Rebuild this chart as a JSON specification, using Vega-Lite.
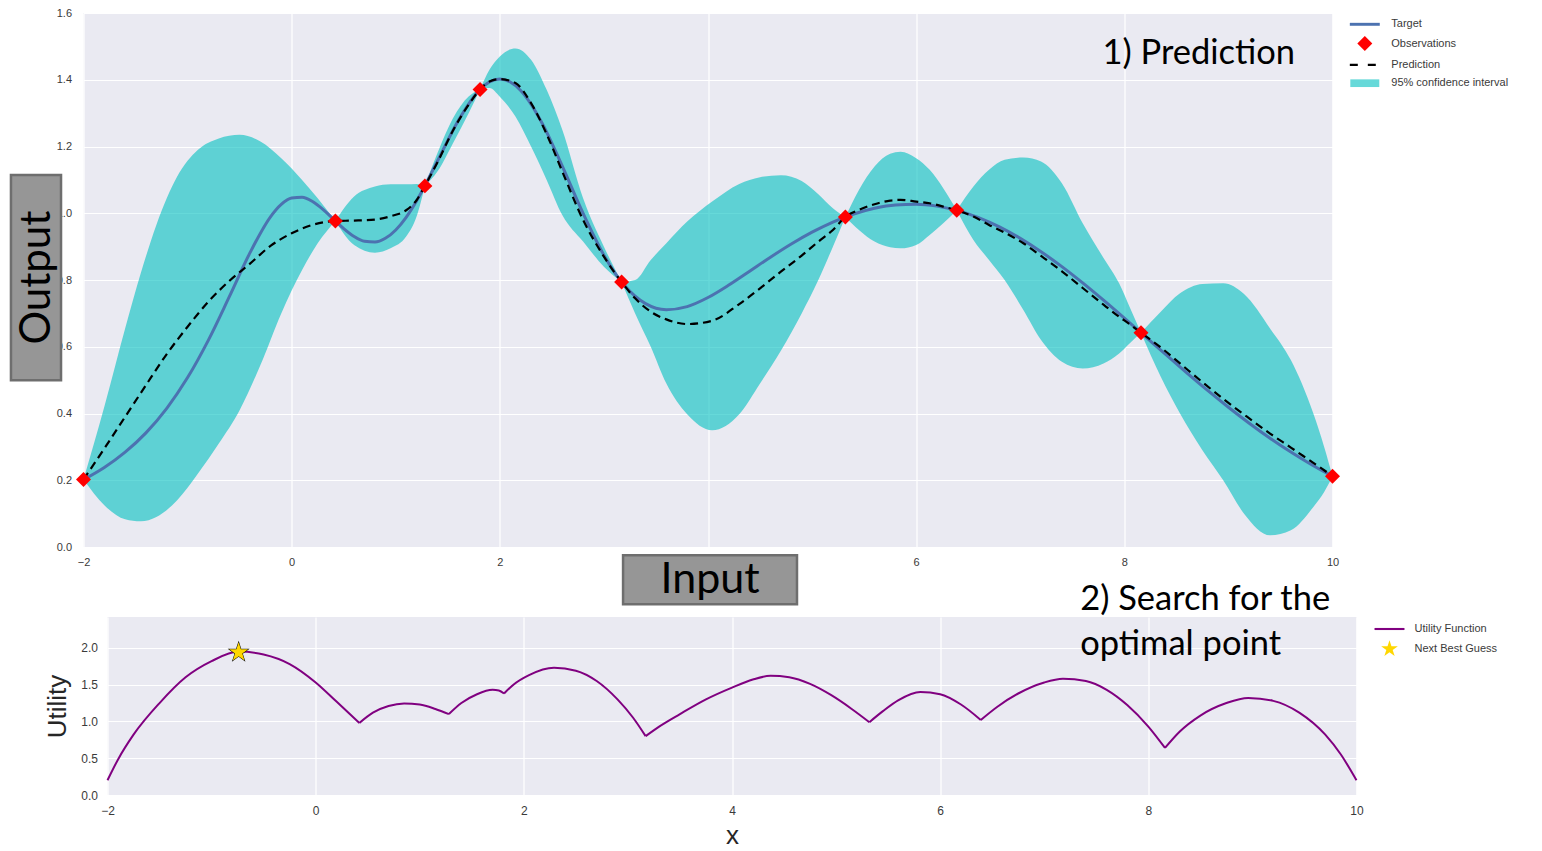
{
  "$schema": "https://vega.github.io/schema/vega-lite/v6.json",
  "background": "white",
  "padding": {"left": 9.5, "top": 7, "right": 0, "bottom": 0},
  "autosize": {"type": "pad"},
  "config": {
    "font": "Liberation Sans",
    "view": {"fill": "#EAEAF2", "stroke": null},
    "axis": {"domain": false, "ticks": false, "grid": true, "gridColor": "#FFFFFF", "gridWidth": 1.2, "labelColor": "#3a3a3a", "labelFont": "Liberation Sans", "titleFont": "Liberation Sans", "titleFontWeight": "normal", "titleColor": "#262626", "labelFlush": false},
    "legend": {"labelFont": "Liberation Sans", "labelColor": "#3a3a3a", "labelFontSize": 11}
  },
  "datasets": {
    "target": [
      {"x": -2, "y": 0.2017}, {"x": -1.8, "y": 0.2381}, {"x": -1.6, "y": 0.284}, {"x": -1.4, "y": 0.342}, {"x": -1.2, "y": 0.4155}, {"x": -1.0, "y": 0.5076}, {"x": -0.8, "y": 0.62}, {"x": -0.6, "y": 0.7493}, {"x": -0.4, "y": 0.8819}, {"x": -0.2, "y": 0.9908}, {"x": -0.1, "y": 1.0265}, {"x": 0, "y": 1.0456}, {"x": 0.1, "y": 1.0479}, {"x": 0.2, "y": 1.0353}, {"x": 0.3, "y": 1.0118}, {"x": 0.4, "y": 0.9828}, {"x": 0.5, "y": 0.954}, {"x": 0.6, "y": 0.9303}, {"x": 0.7, "y": 0.9159}, {"x": 0.8, "y": 0.9137}, {"x": 0.9, "y": 0.9249}, {"x": 1.0, "y": 0.95}, {"x": 1.1, "y": 0.988}, {"x": 1.2, "y": 1.0369}, {"x": 1.4, "y": 1.156}, {"x": 1.6, "y": 1.2773}, {"x": 1.8, "y": 1.368}, {"x": 1.9, "y": 1.3931}, {"x": 2.0, "y": 1.4019}, {"x": 2.1, "y": 1.3933}, {"x": 2.2, "y": 1.368}, {"x": 2.4, "y": 1.2737}, {"x": 2.6, "y": 1.1413}, {"x": 2.8, "y": 0.9996}, {"x": 3.0, "y": 0.8744}, {"x": 3.2, "y": 0.7825}, {"x": 3.4, "y": 0.7291}, {"x": 3.6, "y": 0.711}, {"x": 3.8, "y": 0.7203}, {"x": 4.0, "y": 0.7475}, {"x": 4.2, "y": 0.7848}, {"x": 4.4, "y": 0.8264}, {"x": 4.6, "y": 0.8683}, {"x": 4.8, "y": 0.9079}, {"x": 5.0, "y": 0.9434}, {"x": 5.2, "y": 0.9737}, {"x": 5.4, "y": 0.9978}, {"x": 5.6, "y": 1.015}, {"x": 5.8, "y": 1.0249}, {"x": 6.0, "y": 1.027}, {"x": 6.2, "y": 1.0214}, {"x": 6.4, "y": 1.008}, {"x": 6.6, "y": 0.9871}, {"x": 6.8, "y": 0.9592}, {"x": 7.0, "y": 0.9248}, {"x": 7.2, "y": 0.8848}, {"x": 7.4, "y": 0.84}, {"x": 7.6, "y": 0.7912}, {"x": 7.8, "y": 0.7394}, {"x": 8.0, "y": 0.6857}, {"x": 8.2, "y": 0.631}, {"x": 8.4, "y": 0.5761}, {"x": 8.6, "y": 0.522}, {"x": 8.8, "y": 0.4693}, {"x": 9.0, "y": 0.4188}, {"x": 9.2, "y": 0.3709}, {"x": 9.4, "y": 0.3259}, {"x": 9.6, "y": 0.2844}, {"x": 9.8, "y": 0.2463}, {"x": 10, "y": 0.2118}
    ],
    "mean": [
      {"x": -2, "m": 0.202}, {"x": -1.8, "m": 0.295}, {"x": -1.6, "m": 0.39}, {"x": -1.4, "m": 0.485}, {"x": -1.2, "m": 0.578}, {"x": -1.0, "m": 0.66}, {"x": -0.8, "m": 0.735}, {"x": -0.6, "m": 0.797}, {"x": -0.4, "m": 0.849}, {"x": -0.2, "m": 0.903}, {"x": 0, "m": 0.94}, {"x": 0.2, "m": 0.965}, {"x": 0.42, "m": 0.977},
      {"x": 0.6, "m": 0.978}, {"x": 0.8, "m": 0.981}, {"x": 0.95, "m": 0.991}, {"x": 1.1, "m": 1.009}, {"x": 1.2, "m": 1.039}, {"x": 1.28, "m": 1.082}, {"x": 1.4, "m": 1.152}, {"x": 1.55, "m": 1.248}, {"x": 1.7, "m": 1.325}, {"x": 1.81, "m": 1.371},
      {"x": 1.9, "m": 1.395}, {"x": 2.0, "m": 1.402}, {"x": 2.15, "m": 1.39}, {"x": 2.3, "m": 1.33}, {"x": 2.45, "m": 1.237}, {"x": 2.6, "m": 1.125}, {"x": 2.8, "m": 0.98}, {"x": 3.0, "m": 0.87}, {"x": 3.17, "m": 0.794},
      {"x": 3.3, "m": 0.745}, {"x": 3.45, "m": 0.705}, {"x": 3.6, "m": 0.682}, {"x": 3.8, "m": 0.668}, {"x": 4.04, "m": 0.678}, {"x": 4.3, "m": 0.728}, {"x": 4.5, "m": 0.775}, {"x": 4.7, "m": 0.825}, {"x": 4.9, "m": 0.873}, {"x": 5.06, "m": 0.915}, {"x": 5.2, "m": 0.95}, {"x": 5.32, "m": 0.989},
      {"x": 5.45, "m": 1.01}, {"x": 5.6, "m": 1.027}, {"x": 5.75, "m": 1.038}, {"x": 5.85, "m": 1.04}, {"x": 6.0, "m": 1.035}, {"x": 6.13, "m": 1.03}, {"x": 6.26, "m": 1.02}, {"x": 6.39, "m": 1.009},
      {"x": 6.55, "m": 0.99}, {"x": 6.7, "m": 0.965}, {"x": 6.85, "m": 0.942}, {"x": 7.03, "m": 0.91}, {"x": 7.2, "m": 0.872}, {"x": 7.4, "m": 0.826}, {"x": 7.6, "m": 0.776}, {"x": 7.8, "m": 0.726}, {"x": 7.95, "m": 0.69}, {"x": 8.05, "m": 0.668}, {"x": 8.16, "m": 0.642},
      {"x": 8.35, "m": 0.598}, {"x": 8.535, "m": 0.55}, {"x": 8.75, "m": 0.494}, {"x": 8.95, "m": 0.444}, {"x": 9.15, "m": 0.397}, {"x": 9.4, "m": 0.34}, {"x": 9.6, "m": 0.298}, {"x": 9.816, "m": 0.252}, {"x": 9.92, "m": 0.23}, {"x": 10, "m": 0.212}
    ],
    "band": [
      {"seg": 1, "x": -2, "lower": 0.202, "upper": 0.202}, {"seg": 1, "x": -1.8, "lower": 0.125, "upper": 0.42}, {"seg": 1, "x": -1.6, "lower": 0.083, "upper": 0.655}, {"seg": 1, "x": -1.45, "lower": 0.077, "upper": 0.82}, {"seg": 1, "x": -1.3, "lower": 0.09, "upper": 0.965}, {"seg": 1, "x": -1.1, "lower": 0.14, "upper": 1.11}, {"seg": 1, "x": -0.9, "lower": 0.22, "upper": 1.19}, {"seg": 1, "x": -0.7, "lower": 0.31, "upper": 1.224}, {"seg": 1, "x": -0.5, "lower": 0.41, "upper": 1.235}, {"seg": 1, "x": -0.3, "lower": 0.545, "upper": 1.215}, {"seg": 1, "x": -0.1, "lower": 0.7, "upper": 1.165}, {"seg": 1, "x": 0.1, "lower": 0.83, "upper": 1.1}, {"seg": 1, "x": 0.25, "lower": 0.91, "upper": 1.045}, {"seg": 1, "x": 0.42, "lower": 0.977, "upper": 0.977},
      {"seg": 2, "x": 0.42, "lower": 0.977, "upper": 0.977}, {"seg": 2, "x": 0.6, "lower": 0.905, "upper": 1.05}, {"seg": 2, "x": 0.8, "lower": 0.882, "upper": 1.08}, {"seg": 2, "x": 0.95, "lower": 0.895, "upper": 1.087}, {"seg": 2, "x": 1.1, "lower": 0.93, "upper": 1.087}, {"seg": 2, "x": 1.2, "lower": 0.99, "upper": 1.088}, {"seg": 2, "x": 1.28, "lower": 1.082, "upper": 1.082},
      {"seg": 3, "x": 1.28, "lower": 1.082, "upper": 1.082}, {"seg": 3, "x": 1.4, "lower": 1.125, "upper": 1.18}, {"seg": 3, "x": 1.55, "lower": 1.21, "upper": 1.285}, {"seg": 3, "x": 1.7, "lower": 1.3, "upper": 1.35}, {"seg": 3, "x": 1.81, "lower": 1.371, "upper": 1.371},
      {"seg": 4, "x": 1.81, "lower": 1.371, "upper": 1.371}, {"seg": 4, "x": 1.9, "lower": 1.375, "upper": 1.43}, {"seg": 4, "x": 2.0, "lower": 1.349, "upper": 1.47}, {"seg": 4, "x": 2.15, "lower": 1.29, "upper": 1.494}, {"seg": 4, "x": 2.3, "lower": 1.2, "upper": 1.46}, {"seg": 4, "x": 2.45, "lower": 1.1, "upper": 1.37}, {"seg": 4, "x": 2.6, "lower": 0.995, "upper": 1.25}, {"seg": 4, "x": 2.8, "lower": 0.915, "upper": 1.045}, {"seg": 4, "x": 3.0, "lower": 0.84, "upper": 0.9}, {"seg": 4, "x": 3.17, "lower": 0.794, "upper": 0.794},
      {"seg": 5, "x": 3.17, "lower": 0.794, "upper": 0.794}, {"seg": 5, "x": 3.3, "lower": 0.7, "upper": 0.8}, {"seg": 5, "x": 3.45, "lower": 0.6, "upper": 0.86}, {"seg": 5, "x": 3.6, "lower": 0.49, "upper": 0.91}, {"seg": 5, "x": 3.8, "lower": 0.398, "upper": 0.975}, {"seg": 5, "x": 4.04, "lower": 0.35, "upper": 1.035}, {"seg": 5, "x": 4.3, "lower": 0.398, "upper": 1.088}, {"seg": 5, "x": 4.5, "lower": 0.49, "upper": 1.108}, {"seg": 5, "x": 4.7, "lower": 0.588, "upper": 1.114}, {"seg": 5, "x": 4.9, "lower": 0.7, "upper": 1.097}, {"seg": 5, "x": 5.06, "lower": 0.8, "upper": 1.057}, {"seg": 5, "x": 5.2, "lower": 0.9, "upper": 1.015}, {"seg": 5, "x": 5.32, "lower": 0.989, "upper": 0.989},
      {"seg": 6, "x": 5.32, "lower": 0.989, "upper": 0.989}, {"seg": 6, "x": 5.45, "lower": 0.95, "upper": 1.07}, {"seg": 6, "x": 5.6, "lower": 0.915, "upper": 1.14}, {"seg": 6, "x": 5.75, "lower": 0.898, "upper": 1.178}, {"seg": 6, "x": 5.85, "lower": 0.895, "upper": 1.184}, {"seg": 6, "x": 6.0, "lower": 0.905, "upper": 1.165}, {"seg": 6, "x": 6.13, "lower": 0.935, "upper": 1.13}, {"seg": 6, "x": 6.26, "lower": 0.97, "upper": 1.075}, {"seg": 6, "x": 6.39, "lower": 1.009, "upper": 1.009},
      {"seg": 7, "x": 6.39, "lower": 1.009, "upper": 1.009}, {"seg": 7, "x": 6.55, "lower": 0.92, "upper": 1.08}, {"seg": 7, "x": 6.7, "lower": 0.86, "upper": 1.13}, {"seg": 7, "x": 6.85, "lower": 0.8, "upper": 1.16}, {"seg": 7, "x": 7.03, "lower": 0.71, "upper": 1.167}, {"seg": 7, "x": 7.2, "lower": 0.62, "upper": 1.155}, {"seg": 7, "x": 7.4, "lower": 0.555, "upper": 1.09}, {"seg": 7, "x": 7.6, "lower": 0.535, "upper": 0.97}, {"seg": 7, "x": 7.8, "lower": 0.55, "upper": 0.866}, {"seg": 7, "x": 7.95, "lower": 0.58, "upper": 0.79}, {"seg": 7, "x": 8.05, "lower": 0.61, "upper": 0.72}, {"seg": 7, "x": 8.16, "lower": 0.642, "upper": 0.642},
      {"seg": 8, "x": 8.16, "lower": 0.642, "upper": 0.642}, {"seg": 8, "x": 8.35, "lower": 0.51, "upper": 0.705}, {"seg": 8, "x": 8.535, "lower": 0.4, "upper": 0.76}, {"seg": 8, "x": 8.75, "lower": 0.29, "upper": 0.788}, {"seg": 8, "x": 8.95, "lower": 0.2, "upper": 0.79}, {"seg": 8, "x": 9.15, "lower": 0.1, "upper": 0.758}, {"seg": 8, "x": 9.4, "lower": 0.035, "upper": 0.655}, {"seg": 8, "x": 9.6, "lower": 0.05, "upper": 0.56}, {"seg": 8, "x": 9.816, "lower": 0.12, "upper": 0.4}, {"seg": 8, "x": 9.92, "lower": 0.165, "upper": 0.3}, {"seg": 8, "x": 10, "lower": 0.212, "upper": 0.212}
    ],
    "obs": [
      {"x": -2, "y": 0.202}, {"x": 0.42, "y": 0.977}, {"x": 1.28, "y": 1.082}, {"x": 1.81, "y": 1.371}, {"x": 3.17, "y": 0.794}, {"x": 5.32, "y": 0.989}, {"x": 6.39, "y": 1.009}, {"x": 8.16, "y": 0.642}, {"x": 10, "y": 0.212}
    ],
    "util": [
      {"seg": 1, "x": -2, "u": 0.2}, {"seg": 1, "x": -1.9, "u": 0.48}, {"seg": 1, "x": -1.75, "u": 0.82}, {"seg": 1, "x": -1.5, "u": 1.25}, {"seg": 1, "x": -1.25, "u": 1.6}, {"seg": 1, "x": -1.0, "u": 1.82}, {"seg": 1, "x": -0.74, "u": 1.95}, {"seg": 1, "x": -0.5, "u": 1.91}, {"seg": 1, "x": -0.25, "u": 1.78}, {"seg": 1, "x": 0, "u": 1.53}, {"seg": 1, "x": 0.2, "u": 1.27}, {"seg": 1, "x": 0.42, "u": 0.98},
      {"seg": 2, "x": 0.42, "u": 0.98}, {"seg": 2, "x": 0.55, "u": 1.12}, {"seg": 2, "x": 0.7, "u": 1.21}, {"seg": 2, "x": 0.85, "u": 1.245}, {"seg": 2, "x": 1.0, "u": 1.23}, {"seg": 2, "x": 1.15, "u": 1.17}, {"seg": 2, "x": 1.28, "u": 1.1},
      {"seg": 3, "x": 1.28, "u": 1.1}, {"seg": 3, "x": 1.4, "u": 1.25}, {"seg": 3, "x": 1.55, "u": 1.37}, {"seg": 3, "x": 1.7, "u": 1.43}, {"seg": 3, "x": 1.76, "u": 1.42}, {"seg": 3, "x": 1.81, "u": 1.38},
      {"seg": 4, "x": 1.81, "u": 1.38}, {"seg": 4, "x": 1.9, "u": 1.5}, {"seg": 4, "x": 2.05, "u": 1.63}, {"seg": 4, "x": 2.29, "u": 1.73}, {"seg": 4, "x": 2.5, "u": 1.69}, {"seg": 4, "x": 2.7, "u": 1.55}, {"seg": 4, "x": 2.9, "u": 1.3}, {"seg": 4, "x": 3.05, "u": 1.05}, {"seg": 4, "x": 3.17, "u": 0.8},
      {"seg": 5, "x": 3.17, "u": 0.8}, {"seg": 5, "x": 3.3, "u": 0.93}, {"seg": 5, "x": 3.5, "u": 1.1}, {"seg": 5, "x": 3.75, "u": 1.3}, {"seg": 5, "x": 4.0, "u": 1.46}, {"seg": 5, "x": 4.2, "u": 1.57}, {"seg": 5, "x": 4.37, "u": 1.62}, {"seg": 5, "x": 4.55, "u": 1.6}, {"seg": 5, "x": 4.75, "u": 1.51}, {"seg": 5, "x": 4.95, "u": 1.36}, {"seg": 5, "x": 5.15, "u": 1.17}, {"seg": 5, "x": 5.32, "u": 0.99},
      {"seg": 6, "x": 5.32, "u": 0.99}, {"seg": 6, "x": 5.45, "u": 1.14}, {"seg": 6, "x": 5.6, "u": 1.29}, {"seg": 6, "x": 5.81, "u": 1.4}, {"seg": 6, "x": 6.0, "u": 1.37}, {"seg": 6, "x": 6.2, "u": 1.23}, {"seg": 6, "x": 6.39, "u": 1.02},
      {"seg": 7, "x": 6.39, "u": 1.02}, {"seg": 7, "x": 6.55, "u": 1.2}, {"seg": 7, "x": 6.75, "u": 1.38}, {"seg": 7, "x": 7.0, "u": 1.53}, {"seg": 7, "x": 7.18, "u": 1.58}, {"seg": 7, "x": 7.4, "u": 1.55}, {"seg": 7, "x": 7.6, "u": 1.43}, {"seg": 7, "x": 7.8, "u": 1.22}, {"seg": 7, "x": 8.0, "u": 0.93}, {"seg": 7, "x": 8.16, "u": 0.64},
      {"seg": 8, "x": 8.16, "u": 0.64}, {"seg": 8, "x": 8.3, "u": 0.86}, {"seg": 8, "x": 8.5, "u": 1.08}, {"seg": 8, "x": 8.75, "u": 1.25}, {"seg": 8, "x": 8.96, "u": 1.32}, {"seg": 8, "x": 9.2, "u": 1.28}, {"seg": 8, "x": 9.45, "u": 1.12}, {"seg": 8, "x": 9.7, "u": 0.82}, {"seg": 8, "x": 9.85, "u": 0.55}, {"seg": 8, "x": 10, "u": 0.2}
    ],
    "best": [{"x": -0.74, "u": 1.94}]
  },
  "bounds": "flush",
  "spacing": 70,
  "resolve": {"scale": {"color": "independent", "shape": "independent"}, "legend": {"color": "independent", "shape": "independent"}},
  "vconcat": [
    {
      "width": 1249,
      "height": 534,
      "layer": [
        {
          "data": {"name": "band"},
          "mark": {"type": "area", "color": "#00BFBF", "opacity": 0.6, "interpolate": "monotone"},
          "encoding": {
            "x": {"field": "x", "type": "quantitative", "scale": {"domain": [-2, 10], "nice": false, "zero": false}, "axis": {"values": [-2, 0, 2, 4, 6, 8, 10], "format": "d", "title": null, "labelPadding": 9, "labelFontSize": 11}},
            "y": {"field": "lower", "type": "quantitative", "scale": {"domain": [0, 1.6], "nice": false, "zero": false}, "axis": {"values": [0, 0.2, 0.4, 0.6, 0.8, 1.0, 1.2, 1.4, 1.6], "format": ".1f", "title": null, "labelPadding": 12, "labelFontSize": 11}},
            "y2": {"field": "upper"},
            "detail": {"field": "seg", "type": "nominal"}
          }
        },
        {
          "data": {"name": "target"},
          "mark": {"type": "line", "color": "#4C72B0", "strokeWidth": 3, "interpolate": "monotone"},
          "encoding": {
            "x": {"field": "x", "type": "quantitative"},
            "y": {"field": "y", "type": "quantitative"}
          }
        },
        {
          "data": {"name": "mean"},
          "mark": {"type": "line", "color": "#000000", "strokeWidth": 2.2, "strokeDash": [8, 5], "interpolate": "monotone"},
          "encoding": {
            "x": {"field": "x", "type": "quantitative"},
            "y": {"field": "m", "type": "quantitative"}
          }
        },
        {
          "data": {"name": "obs"},
          "mark": {"type": "point", "filled": true, "size": 196, "opacity": 1},
          "encoding": {
            "x": {"field": "x", "type": "quantitative"},
            "y": {"field": "y", "type": "quantitative"},
            "color": {
              "datum": "Observations", "type": "nominal",
              "scale": {"domain": ["Target", "Observations", "Prediction", "95% confidence interval"], "range": ["#4C72B0", "#FF0000", "#000000", "#66D9D9"]},
              "legend": {"title": null, "orient": "right", "offset": 20.7, "padding": 4.3, "symbolSize": 196, "symbolStrokeWidth": 0, "rowPadding": 6.3, "labelOffset": 19.5}
            },
            "shape": {
              "datum": "Observations", "type": "nominal",
              "scale": {"domain": ["Target", "Observations", "Prediction", "95% confidence interval"], "range": ["M-2.14,-0.21H2.14V0.21H-2.14Z", "M0,-1.07L1.07,0L0,1.07L-1.07,0Z", "M-2.14,-0.16H-1.0V0.16H-2.14ZM0.43,-0.16H1.57V0.16H0.43Z", "M-2.07,-0.55H2.07V0.55H-2.07Z"]},
              "legend": {"title": null, "orient": "right", "offset": 20.7, "padding": 4.3, "symbolSize": 196, "symbolStrokeWidth": 0, "rowPadding": 6.3, "labelOffset": 19.5}
            }
          }
        },
        {
          "data": {"values": [{}]},
          "mark": {"type": "rect", "fill": "#969696", "stroke": "#6e6e6e", "strokeWidth": 2.5},
          "encoding": {
            "x": {"datum": -2.697, "type": "quantitative"}, "x2": {"datum": -2.216},
            "y": {"datum": 1.1145, "type": "quantitative"}, "y2": {"datum": 0.5}
          }
        },
        {
          "data": {"values": [{}]},
          "mark": {"type": "text", "text": "Output", "font": "Lato", "fontSize": 42, "angle": 270, "align": "center", "baseline": "middle", "color": "#000000"},
          "encoding": {"x": {"datum": -2.45, "type": "quantitative"}, "y": {"datum": 0.807, "type": "quantitative"}}
        },
        {
          "data": {"values": [{}]},
          "mark": {"type": "rect", "fill": "#969696", "stroke": "#6e6e6e", "strokeWidth": 2.5},
          "encoding": {
            "x": {"datum": 3.184, "type": "quantitative"}, "x2": {"datum": 4.855},
            "y": {"datum": -0.0246, "type": "quantitative"}, "y2": {"datum": -0.1715}
          }
        },
        {
          "data": {"values": [{}]},
          "mark": {"type": "text", "text": "Input", "font": "Lato", "fontSize": 43, "align": "center", "baseline": "middle", "color": "#000000"},
          "encoding": {"x": {"datum": 4.02, "type": "quantitative"}, "y": {"datum": -0.098, "type": "quantitative"}}
        },
        {
          "data": {"values": [{}]},
          "mark": {"type": "text", "text": "1) Prediction", "font": "Lato", "fontSize": 34.5, "align": "left", "baseline": "middle", "color": "#000000"},
          "encoding": {"x": {"datum": 7.79, "type": "quantitative"}, "y": {"datum": 1.478, "type": "quantitative"}}
        }
      ]
    },
    {
      "bounds": "flush",
      "spacing": 20,
      "hconcat": [
        {
          "width": 4,
          "height": 178,
          "view": {"fill": null, "stroke": null},
          "data": {"values": []},
          "mark": "point"
        },
        {
          "width": 1249,
          "height": 178,
          "layer": [
            {
              "data": {"name": "util"},
              "mark": {"type": "line", "color": "#800080", "strokeWidth": 2, "interpolate": "monotone"},
              "encoding": {
                "x": {"field": "x", "type": "quantitative", "scale": {"domain": [-2, 10], "nice": false, "zero": false}, "axis": {"values": [-2, 0, 2, 4, 6, 8, 10], "format": "d", "title": "x", "titleFontSize": 26, "titlePadding": 6, "labelPadding": 10, "labelFontSize": 12}},
                "y": {"field": "u", "type": "quantitative", "scale": {"domain": [0, 2.42], "nice": false, "zero": false}, "axis": {"values": [0, 0.5, 1.0, 1.5, 2.0], "format": ".1f", "title": "Utility", "titleFontSize": 26, "titlePadding": 10, "labelPadding": 10, "labelFontSize": 12}},
                "detail": {"field": "seg", "type": "nominal"}
              }
            },
            {
              "data": {"name": "best"},
              "mark": {"type": "point", "shape": "M0,-1.25L0.281,-0.386L1.189,-0.386L0.454,0.148L0.735,1.011L0,0.478L-0.735,1.011L-0.454,0.148L-1.189,-0.386L-0.281,-0.386Z", "filled": true, "size": 340, "color": "#000000", "opacity": 1},
              "encoding": {
                "x": {"field": "x", "type": "quantitative"},
                "y": {"field": "u", "type": "quantitative"}
              }
            },
            {
              "data": {"name": "best"},
              "mark": {"type": "point", "filled": true, "size": 256, "opacity": 1},
              "encoding": {
                "x": {"field": "x", "type": "quantitative"},
                "y": {"field": "u", "type": "quantitative"},
                "color": {
                  "datum": "Next Best Guess", "type": "nominal",
                  "scale": {"domain": ["Utility Function", "Next Best Guess"], "range": ["#800080", "#FFD700"]},
                  "legend": {"title": null, "orient": "right", "offset": 14, "padding": 5, "symbolSize": 196, "symbolStrokeWidth": 0, "rowPadding": 6, "labelOffset": 18}
                },
                "shape": {
                  "datum": "Next Best Guess", "type": "nominal",
                  "scale": {"domain": ["Utility Function", "Next Best Guess"], "range": ["M-2.14,-0.15H2.14V0.15H-2.14Z", "M0,-1.25L0.281,-0.386L1.189,-0.386L0.454,0.148L0.735,1.011L0,0.478L-0.735,1.011L-0.454,0.148L-1.189,-0.386L-0.281,-0.386Z"]},
                  "legend": {"title": null, "orient": "right", "offset": 14, "padding": 5, "symbolSize": 196, "symbolStrokeWidth": 0, "rowPadding": 6, "labelOffset": 18}
                }
              }
            },
            {
              "data": {"values": [{}]},
              "mark": {"type": "text", "text": "2) Search for the", "font": "Lato", "fontSize": 34.5, "align": "left", "baseline": "middle", "color": "#000000"},
              "encoding": {"x": {"datum": 7.345, "type": "quantitative"}, "y": {"datum": 2.655, "type": "quantitative"}}
            },
            {
              "data": {"values": [{}]},
              "mark": {"type": "text", "text": "optimal point", "font": "Lato", "fontSize": 34.5, "align": "left", "baseline": "middle", "color": "#000000"},
              "encoding": {"x": {"datum": 7.345, "type": "quantitative"}, "y": {"datum": 2.04, "type": "quantitative"}}
            }
          ]
        }
      ]
    }
  ]
}
